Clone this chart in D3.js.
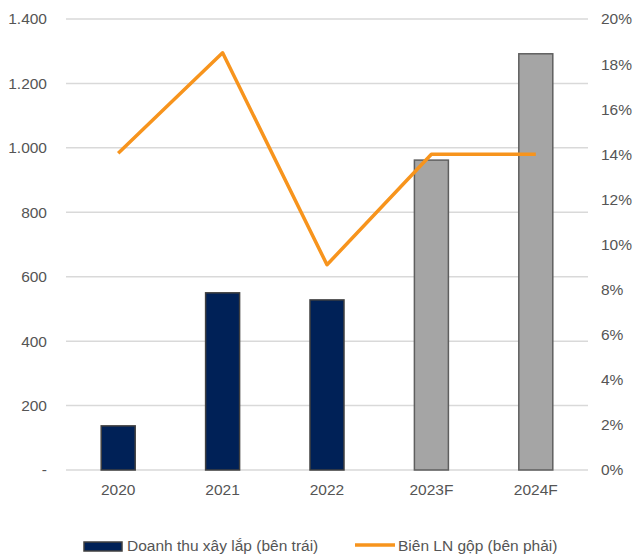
<!DOCTYPE html>
<html>
<head>
<meta charset="utf-8">
<title>Doanh thu xây lắp</title>
<style>
    body { margin: 0; background: #fff; }
    text { font-family: "Liberation Sans", Arial, sans-serif; fill: #555; font-size: 15.5px; }
    .grid line { stroke: #d9d9d9; stroke-width: 1.5px; }
</style>
</head>
<body>
<svg width="633" height="556"></svg>
<script src="https://d3js.org/d3.v7.min.js"></script>
<script>
const years = ["2020", "2021", "2022", "2023F", "2024F"];
const revenue = [137, 550, 528, 962, 1292];
const margin = [0.1405, 0.185, 0.091, 0.14, 0.14];
const forecast = [false, false, false, true, true];
const leftTicks = [0, 200, 400, 600, 800, 1000, 1200, 1400];
const rightTicks = [0, 0.02, 0.04, 0.06, 0.08, 0.1, 0.12, 0.14, 0.16, 0.18, 0.2];

const svg = d3.select("svg");
const plotL = 66, plotR = 588, plotT = 19, plotB = 470;

const x = d3.scalePoint().domain(years).range([plotL, plotR]).padding(0.5);
const y = d3.scaleLinear().domain([0, 1400]).range([plotB, plotT]);
const y2 = d3.scaleLinear().domain([0, 0.2]).range([plotB, plotT]);
const fmt = d3.formatLocale({ decimal: ",", thousands: ".", grouping: [3], currency: ["", ""] }).format(",");

// gridlines
svg.append("g").attr("class", "grid")
    .selectAll("line")
    .data(leftTicks)
    .join("line")
    .attr("x1", plotL).attr("x2", plotR)
    .attr("y1", d => y(d)).attr("y2", d => y(d));

// left axis labels
svg.append("g")
    .selectAll("text")
    .data(leftTicks)
    .join("text")
    .attr("x", 47).attr("y", d => y(d))
    .attr("dy", "0.35em")
    .attr("text-anchor", "end")
    .text(d => d === 0 ? "-" : fmt(d));

// right axis labels
svg.append("g")
    .selectAll("text")
    .data(rightTicks)
    .join("text")
    .attr("x", 601).attr("y", d => y2(d))
    .attr("dy", "0.35em")
    .text(d => Math.round(d * 100) + "%");

// x labels
svg.append("g")
    .selectAll("text")
    .data(years)
    .join("text")
    .attr("x", d => x(d)).attr("y", 490)
    .attr("dy", "0.35em")
    .attr("text-anchor", "middle")
    .text(d => d);

// bars
const barW = 34;
svg.append("g")
    .selectAll("rect")
    .data(years)
    .join("rect")
    .attr("x", d => x(d) - barW / 2)
    .attr("y", (d, i) => y(revenue[i]))
    .attr("width", barW)
    .attr("height", (d, i) => y(0) - y(revenue[i]))
    .attr("fill", (d, i) => forecast[i] ? "#a5a5a5" : "#002157")
    .attr("stroke", (d, i) => forecast[i] ? "#5f5f5f" : "#404040")
    .attr("stroke-width", 1.5);

// margin line
const line = d3.line().x((d, i) => x(years[i])).y(d => y2(d));
svg.append("path")
    .datum(margin)
    .attr("d", line)
    .attr("fill", "none")
    .attr("stroke", "#f7941d")
    .attr("stroke-width", 3.5)
    .attr("stroke-linejoin", "round");

// legend
const lg = svg.append("g");
lg.append("rect")
    .attr("x", 84).attr("y", 542).attr("width", 38).attr("height", 9)
    .attr("fill", "#002157").attr("stroke", "#404040").attr("stroke-width", 1.5);
lg.append("text")
    .attr("x", 127).attr("y", 546).attr("dy", "0.35em")
    .text("Doanh thu xây lắp (bên trái)");
lg.append("line")
    .attr("x1", 355).attr("x2", 395).attr("y1", 545).attr("y2", 545)
    .attr("stroke", "#f7941d").attr("stroke-width", 3.5);
lg.append("text")
    .attr("x", 398).attr("y", 546).attr("dy", "0.35em")
    .attr("text", "")
    .text("Biên LN gộp (bên phải)");
</script>
</body>
</html>
